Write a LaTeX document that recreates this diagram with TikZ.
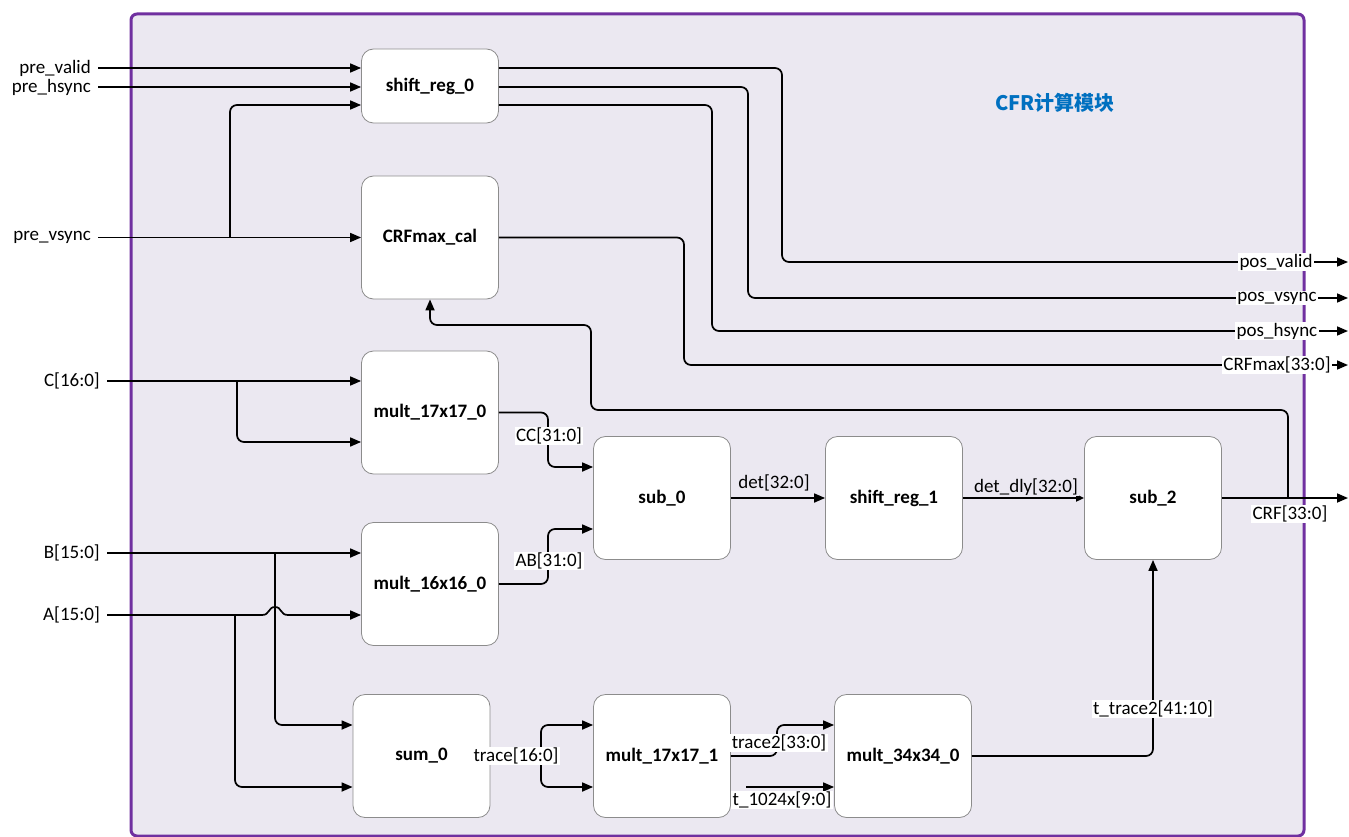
\documentclass[tikz,border=0pt]{standalone}
\usepackage{fontspec}
\setmainfont{Carlito}
\newfontfamily\cjk{Noto Sans CJK SC}
\usetikzlibrary{arrows.meta}
\definecolor{frameP}{RGB}{112,48,160}
\definecolor{frameF}{RGB}{235,232,241}
\definecolor{titleB}{RGB}{0,112,192}
\definecolor{boxG}{RGB}{140,140,140}
\begin{document}
\begin{tikzpicture}[x=1pt,y=-1pt,font=\fontsize{19}{22}\selectfont,
  blk/.style={draw=boxG, fill=white, rounded corners=12pt, minimum width=137pt,
    minimum height=123pt, line width=0.8pt, font=\fontsize{19}{22}\selectfont\bfseries},
  wire/.style={line width=1.7pt, rounded corners=7pt},
  arr/.style={wire, -{Triangle[length=11pt,width=9pt]}},
  lbl/.style={inner xsep=7pt, inner ysep=1pt, anchor=east},
  sig/.style={fill=white, inner xsep=1.5pt, inner ysep=1pt}]
\useasboundingbox (0,0) rectangle (1349,837);
% frame
\draw[draw=frameP, fill=frameF, line width=3pt, rounded corners=6pt] (131,14) rectangle (1304,836);
\node[text=titleB, font={\fontsize{20}{24}\cjk\bfseries}] (title) at (1055,103) {CFR计算模块};
% blocks
\node[blk, minimum height=74pt] (sr0) at (430,86) {shift\_reg\_0};
\node[blk] (crf) at (430,237.5) {CRFmax\_cal};
\node[blk] (m0) at (430,412.5) {mult\_17x17\_0};
\node[blk] (m1) at (430,584) {mult\_16x16\_0};
\node[blk] (sum) at (421.5,756) {sum\_0};
\node[blk] (m2) at (662,756) {mult\_17x17\_1};
\node[blk] (m3) at (903,756) {mult\_34x34\_0};
\node[blk] (sub0) at (662,498) {sub\_0};
\node[blk] (sr1) at (894,498) {shift\_reg\_1};
\node[blk] (sub2) at (1153,498) {sub\_2};
% input labels
\node[lbl] (pv) at (98,68) {pre\_valid};
\node[lbl, fill=white] (ph) at (98,87) {pre\_hsync};
\node[lbl] (pvs) at (98,237.5) {pre\_vsync};
\node[lbl] (lc) at (107,381) {C[16:0]};
\node[lbl] (lb) at (107,553) {B[15:0]};
\node[lbl] (la) at (107,615) {A[15:0]};
% free ends
\coordinate (ov) at (1348,262);
\coordinate (ovs) at (1348,298);
\coordinate (ohs) at (1348,331);
\coordinate (omax) at (1348,365);
\coordinate (ocrf) at (1348,498);
\coordinate (jc) at (1288,498);
\coordinate (vs) at (230,237.5);
\coordinate (cj) at (237,381);
\coordinate (bj) at (275,553);
\coordinate (aj) at (235,615);
\coordinate (tin) at (746,787);
% inputs
\draw[arr] (pv.east) -- (pv.east -| sr0.west);
\draw[arr] (ph.east) -- (ph.east -| sr0.west);
\draw[arr] (pvs.east) -- (pvs.east -| crf.west);
\draw[arr] (vs) -- (230,105) -- (sr0.west |- 0,105);
\draw[arr] (lc.east) -- (lc.east -| m0.west);
\draw[arr] (cj) -- (237,442) -- (m0.west |- 0,442);
\draw[arr] (lb.east) -- (lb.east -| m1.west);
\draw[arr, rounded corners=0pt] (la.east) -- (262,615) .. controls (270,615) and (268,607) .. (275,607)
   .. controls (282,607) and (280,615) .. (288,615) -- (la.east -| m1.west);
\draw[arr] (bj) -- (275,725) -- (sum.west |- 0,725);
\draw[arr] (aj) -- (235,787) -- (sum.west |- 0,787);
% shift_reg_0 outputs
\draw[arr] (sr0.east |- pv) -- (782,68) -- (782,262) -- (ov);
\draw[arr] (sr0.east |- ph) -- (748,87) -- (748,298) -- (ovs);
\draw[arr] (sr0.east |- 0,105) -- (712,105) -- (712,331) -- (ohs);
\draw[arr] (crf.east) -- (684,237.5) -- (684,365) -- (omax);
% multipliers to sub_0
\draw[arr] (m0.east) -- (548,412.5) -- (548,467) -- (sub0.west |- 0,467);
\draw[arr] (m1.east) -- (548,584) -- (548,529) -- (sub0.west |- 0,529);
% main chain
\draw[arr] (sub0.east) -- (sr1.west);
\draw[wire, -{Triangle[length=8pt,width=7pt]}] (sr1.east) -- (sub2.west);
\draw[arr] (sub2.east) -- (ocrf);
\draw[arr] (jc) -- (1288,410) -- (591,410) -- (591,325) -- (430,325) -- (crf.south);
% bottom chain
\draw[arr] (sum.east) -- (541,756) -- (541,725) -- (m2.west |- 0,725);
\draw[arr] (sum.east) -- (541,756) -- (541,787) -- (m2.west |- 0,787);
\draw[arr] (m2.east) -- (777,756) -- (777,725) -- (m3.west |- 0,725);
\draw[arr] (tin) -- (m3.west |- tin);
\draw[arr] (m3.east) -- (1153,756) -- (sub2.south);
% signal labels
\node[sig] (lcc) at (549,436) {CC[31:0]};
\node[sig] (lab) at (549,561) {AB[31:0]};
\node[inner sep=1pt] (ldet) at (774,483) {det[32:0]};
\node[sig, fill=frameF] (ldd) at (1026,487) {det\_dly[32:0]};
\node[sig] (lcrf) at (1290,514) {CRF[33:0]};
\node[sig] (ltr) at (516,756) {trace[16:0]};
\node[sig] (ltr2) at (779,743) {trace2[33:0]};
\node[sig] (lt1024) at (782,800) {t\_1024x[9:0]};
\node[sig] (ltt) at (1153,709) {t\_trace2[41:10]};
\node[sig] (lpv) at (1276,262) {pos\_valid};
\node[sig] (lpvs) at (1277,298) {pos\_vsync};
\node[sig] (lphs) at (1277,331) {pos\_hsync};
\node[sig] (lmax) at (1277,365) {CRFmax[33:0]};
\end{tikzpicture}
\end{document}
